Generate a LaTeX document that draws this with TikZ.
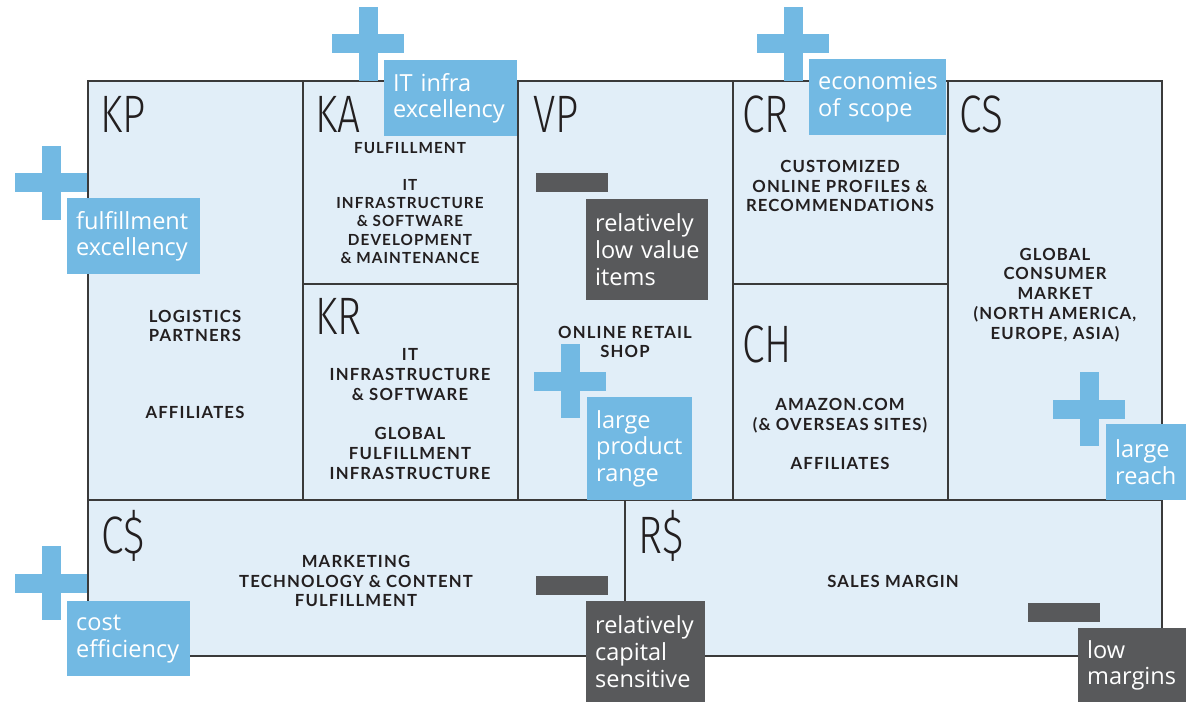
\documentclass[tikz,border=0pt]{standalone}
\usepackage{fontspec}
\usepackage{tikz}
\usepackage{xcolor}
\setmainfont{Open Sans}
\newfontfamily\capsfont{Lato}[LetterSpace=7]
\newfontfamily\letterfont{Fira Sans Light}[FakeStretch=0.77]
\definecolor{bmcfill}{RGB}{225,238,248}
\definecolor{bmcline}{RGB}{58,58,58}
\definecolor{bmcblue}{RGB}{114,185,227}
\definecolor{bmcdark}{RGB}{88,89,91}
\definecolor{bmctext}{RGB}{35,31,32}

\begin{document}
\begin{tikzpicture}[x=0.02cm, y=-0.02cm,
  frame/.style={draw=bmcline, line width=1pt},
  letter/.style={anchor=base west, inner sep=0pt, text=bmctext, font=\letterfont\fontsize{30}{30}\selectfont},
  capstext/.style={align=center, inner sep=0pt, text=bmctext, font=\capsfont\bfseries\fontsize{9.5}{11.3}\selectfont},
  callout/.style={anchor=north west, align=left, inner xsep=5pt, inner ysep=0pt, font=\fontsize{13.4}{15.2}\selectfont, text=white},
  pluscall/.style={callout, fill=bmcblue},
  minuscall/.style={callout, fill=bmcdark},
  plussign/.pic={\fill[bmcblue] (-36,-9.5) rectangle (36,9.5);
                 \fill[bmcblue] (-9.5,-37) rectangle (9.5,37);},
  minussign/.pic={\fill[bmcdark] (-36,-9.5) rectangle (36,9.5);}]
\useasboundingbox (0,0) rectangle (1189,702);
\fill[bmcfill] (88,81) rectangle (1162,656);
\draw[frame] (88,81) rectangle (1162,656);
\draw[frame] (88,500) -- (1162,500);
\draw[frame] (303,81) -- (303,500);
\draw[frame] (518,81) -- (518,500);
\draw[frame] (733,81) -- (733,500);
\draw[frame] (948,81) -- (948,500);
\draw[frame] (303,284) -- (518,284);
\draw[frame] (733,284) -- (948,284);
\draw[frame] (625,500) -- (625,656);

\node[letter] (kp) at (100,133) {KP};
\node[letter] (ka) at (315,133) {KA};
\node[letter] (kr) at (315,335) {KR};
\node[letter] (vp) at (533,133) {VP};
\node[letter] (cr) at (742,133) {CR};
\node[letter] (ch) at (742,362) {CH};
\node[letter] (cs) at (959,133) {CS};
\node[letter] (cost) at (101,553) {C\$};
\node[letter] (rev) at (638,553) {R\$};

\node[capstext] (kptxt) at (195,326) {LOGISTICS\\PARTNERS};
\node[capstext] (kptxtb) at (195,412) {AFFILIATES};
\node[capstext, font=\capsfont\bfseries\fontsize{8.7}{10.4}\selectfont] (katxt) at (410,203)
  {FULFILLMENT\\[10.4pt]IT\\INFRASTRUCTURE\\\& SOFTWARE\\DEVELOPMENT\\\& MAINTENANCE};
\node[capstext] (krtxt) at (410,414)
  {IT\\INFRASTRUCTURE\\\& SOFTWARE\\[11.3pt]GLOBAL\\FULFILLMENT\\INFRASTRUCTURE};
\node[capstext] (vptxt) at (625,342) {ONLINE RETAIL\\SHOP};
\node[capstext] (crtxt) at (840,186) {CUSTOMIZED\\ONLINE PROFILES \&\\RECOMMENDATIONS};
\node[capstext] (chtxt) at (840,434) {AMAZON.COM\\(\& OVERSEAS SITES)\\[11.3pt]AFFILIATES};
\node[capstext] (cstxt) at (1055,295) {GLOBAL\\CONSUMER\\MARKET\\(NORTH AMERICA,\\EUROPE, ASIA)};
\node[capstext] (costtxt) at (356,581) {MARKETING\\TECHNOLOGY \& CONTENT\\FULFILLMENT};
\node[capstext] (revtxt) at (893,581) {SALES MARGIN};

\pic at (51,183) {plussign};
\pic at (368,44) {plussign};
\pic at (793,44) {plussign};
\pic at (570,381) {plussign};
\pic at (1089,409) {plussign};
\pic at (51,583) {plussign};
\pic at (572,183) {minussign};
\pic at (572,585) {minussign};
\pic at (1064,612) {minussign};

\node[pluscall, text width=2.31cm, minimum height=1.52cm] (kpplus) at (67,198) {fulfillment\\excellency};
\node[pluscall, text width=2.31cm, minimum height=1.52cm] (kaplus) at (384,60) {IT infra\\excellency};
\node[pluscall, text width=2.39cm, minimum height=1.52cm] (crplus) at (809,59) {economies\\of scope};
\node[pluscall, text width=1.75cm, minimum height=2.06cm] (vpplus) at (587,397) {large\\product\\range};
\node[pluscall, text width=1.25cm, minimum height=1.52cm] (csplus) at (1106,424) {large\\reach};
\node[pluscall, text width=2.11cm, minimum height=1.50cm] (costplus) at (67,601) {cost\\efficiency};
\node[minuscall, text width=2.09cm, minimum height=2.02cm] (vpminus) at (586,199) {relatively\\low value\\items};
\node[minuscall, text width=2.03cm, minimum height=2.02cm] (costminus) at (586,601) {relatively\\capital\\sensitive};
\node[minuscall, text width=1.81cm, minimum height=1.48cm] (revminus) at (1078,628) {low\\margins};
\end{tikzpicture}
\end{document}
